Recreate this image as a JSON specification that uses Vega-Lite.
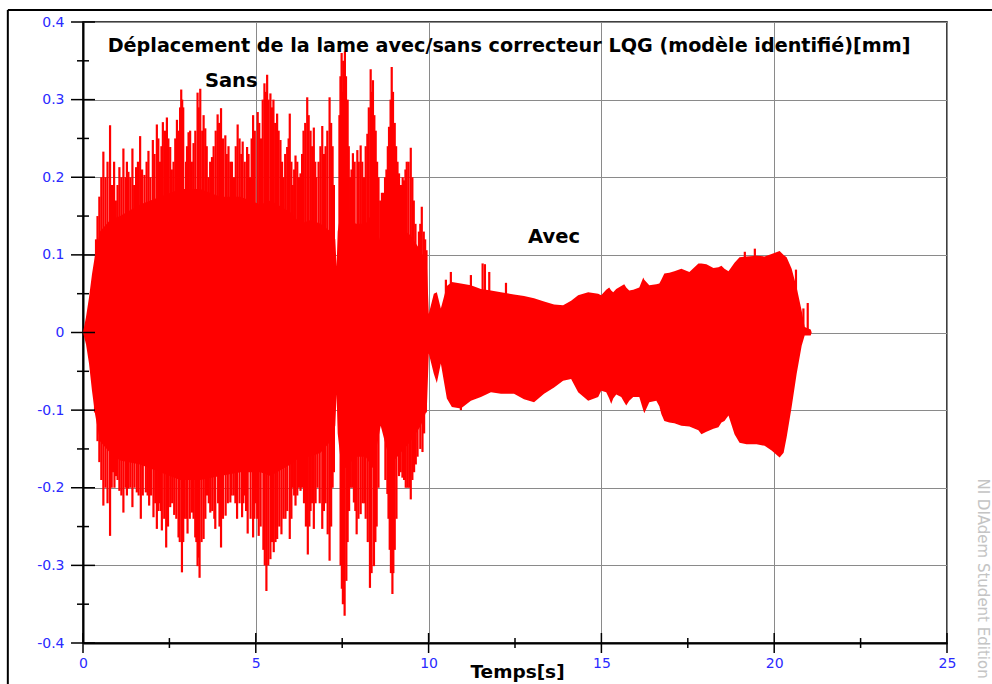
{
  "$schema": "https://vega.github.io/schema/vega-lite/v6.json",
  "width": 864,
  "height": 621,
  "autosize": {"type": "none"},
  "padding": {"left": 83, "top": 22, "right": 45, "bottom": 41},
  "background": "#ffffff",
  "config": {
    "view": {"stroke": "#000000", "strokeWidth": 1.5},
    "font": "DejaVu Sans"
  },
  "datasets": {
    "one": [{}],
    "env": [
      {"t": 0, "hi": 0, "lo": 0},
      {"t": 0.087, "hi": 0.02, "lo": -0.015},
      {"t": 0.174, "hi": 0.045, "lo": -0.04},
      {"t": 0.26, "hi": 0.075, "lo": -0.075},
      {"t": 0.348, "hi": 0.1, "lo": -0.105},
      {"t": 0.493, "hi": 0.13, "lo": -0.14},
      {"t": 0.783, "hi": 0.145, "lo": -0.155},
      {"t": 1.073, "hi": 0.15, "lo": -0.165},
      {"t": 1.653, "hi": 0.165, "lo": -0.17},
      {"t": 2.233, "hi": 0.175, "lo": -0.18},
      {"t": 2.813, "hi": 0.185, "lo": -0.19},
      {"t": 3.393, "hi": 0.185, "lo": -0.19},
      {"t": 3.973, "hi": 0.175, "lo": -0.185},
      {"t": 4.553, "hi": 0.175, "lo": -0.18},
      {"t": 5.133, "hi": 0.165, "lo": -0.18},
      {"t": 5.423, "hi": 0.17, "lo": -0.185},
      {"t": 6.003, "hi": 0.155, "lo": -0.17},
      {"t": 6.294, "hi": 0.14, "lo": -0.16},
      {"t": 6.584, "hi": 0.145, "lo": -0.16},
      {"t": 6.874, "hi": 0.14, "lo": -0.155},
      {"t": 7.164, "hi": 0.13, "lo": -0.14},
      {"t": 7.3, "hi": 0.12, "lo": -0.12},
      {"t": 7.338, "hi": 0.085, "lo": -0.08},
      {"t": 7.37, "hi": 0.13, "lo": -0.13},
      {"t": 7.454, "hi": 0.155, "lo": -0.165},
      {"t": 7.599, "hi": 0.165, "lo": -0.175},
      {"t": 7.889, "hi": 0.14, "lo": -0.16},
      {"t": 8.179, "hi": 0.14, "lo": -0.16},
      {"t": 8.382, "hi": 0.155, "lo": -0.175},
      {"t": 8.614, "hi": 0.115, "lo": -0.12},
      {"t": 8.904, "hi": 0.15, "lo": -0.17},
      {"t": 9.194, "hi": 0.135, "lo": -0.155},
      {"t": 9.484, "hi": 0.125, "lo": -0.14},
      {"t": 9.774, "hi": 0.105, "lo": -0.12},
      {"t": 9.948, "hi": 0.09, "lo": -0.1},
      {"t": 10.006, "hi": 0.024, "lo": -0.027},
      {"t": 10.151, "hi": 0.05, "lo": -0.053},
      {"t": 10.238, "hi": 0.052, "lo": -0.065},
      {"t": 10.354, "hi": 0.031, "lo": -0.04},
      {"t": 10.528, "hi": 0.06, "lo": -0.085},
      {"t": 10.673, "hi": 0.065, "lo": -0.096},
      {"t": 10.934, "hi": 0.063, "lo": -0.098},
      {"t": 11.224, "hi": 0.061, "lo": -0.088},
      {"t": 11.514, "hi": 0.056, "lo": -0.083},
      {"t": 11.804, "hi": 0.054, "lo": -0.077},
      {"t": 12.094, "hi": 0.052, "lo": -0.079},
      {"t": 12.471, "hi": 0.049, "lo": -0.079},
      {"t": 12.761, "hi": 0.047, "lo": -0.086},
      {"t": 13.051, "hi": 0.044, "lo": -0.09},
      {"t": 13.341, "hi": 0.04, "lo": -0.079},
      {"t": 13.631, "hi": 0.036, "lo": -0.071},
      {"t": 13.892, "hi": 0.035, "lo": -0.062},
      {"t": 14.124, "hi": 0.041, "lo": -0.06},
      {"t": 14.327, "hi": 0.048, "lo": -0.077},
      {"t": 14.617, "hi": 0.052, "lo": -0.088},
      {"t": 14.907, "hi": 0.05, "lo": -0.083},
      {"t": 14.994, "hi": 0.048, "lo": -0.075},
      {"t": 15.139, "hi": 0.055, "lo": -0.077},
      {"t": 15.226, "hi": 0.058, "lo": -0.085},
      {"t": 15.284, "hi": 0.054, "lo": -0.092},
      {"t": 15.342, "hi": 0.052, "lo": -0.085},
      {"t": 15.429, "hi": 0.056, "lo": -0.08},
      {"t": 15.574, "hi": 0.06, "lo": -0.083},
      {"t": 15.661, "hi": 0.062, "lo": -0.09},
      {"t": 15.719, "hi": 0.058, "lo": -0.094},
      {"t": 15.806, "hi": 0.054, "lo": -0.088},
      {"t": 15.922, "hi": 0.055, "lo": -0.083},
      {"t": 16.096, "hi": 0.058, "lo": -0.083},
      {"t": 16.212, "hi": 0.071, "lo": -0.1},
      {"t": 16.241, "hi": 0.068, "lo": -0.104},
      {"t": 16.386, "hi": 0.061, "lo": -0.09},
      {"t": 16.589, "hi": 0.062, "lo": -0.088},
      {"t": 16.676, "hi": 0.063, "lo": -0.095},
      {"t": 16.734, "hi": 0.068, "lo": -0.105},
      {"t": 16.821, "hi": 0.076, "lo": -0.114},
      {"t": 16.966, "hi": 0.077, "lo": -0.116},
      {"t": 17.111, "hi": 0.079, "lo": -0.117},
      {"t": 17.314, "hi": 0.082, "lo": -0.12},
      {"t": 17.546, "hi": 0.078, "lo": -0.121},
      {"t": 17.807, "hi": 0.089, "lo": -0.126},
      {"t": 17.894, "hi": 0.089, "lo": -0.131},
      {"t": 18.039, "hi": 0.088, "lo": -0.128},
      {"t": 18.242, "hi": 0.083, "lo": -0.124},
      {"t": 18.387, "hi": 0.084, "lo": -0.122},
      {"t": 18.474, "hi": 0.086, "lo": -0.116},
      {"t": 18.561, "hi": 0.082, "lo": -0.114},
      {"t": 18.677, "hi": 0.079, "lo": -0.107},
      {"t": 18.852, "hi": 0.09, "lo": -0.131},
      {"t": 18.997, "hi": 0.097, "lo": -0.142},
      {"t": 19.2, "hi": 0.098, "lo": -0.144},
      {"t": 19.49, "hi": 0.099, "lo": -0.144},
      {"t": 19.722, "hi": 0.098, "lo": -0.146},
      {"t": 19.925, "hi": 0.101, "lo": -0.152},
      {"t": 20.157, "hi": 0.105, "lo": -0.161},
      {"t": 20.273, "hi": 0.1, "lo": -0.155},
      {"t": 20.36, "hi": 0.097, "lo": -0.135},
      {"t": 20.505, "hi": 0.082, "lo": -0.096},
      {"t": 20.65, "hi": 0.058, "lo": -0.053},
      {"t": 20.795, "hi": 0.028, "lo": -0.017},
      {"t": 20.882, "hi": 0.007, "lo": -0.004},
      {"t": 21.056, "hi": 0.004, "lo": -0.004},
      {"t": 21.085, "hi": 0, "lo": 0}
    ],
    "spikes": [
      {"t": 0.377, "v": 0.12}, {"t": 0.473, "v": 0.175}, {"t": 0.589, "v": 0.233}, {"t": 0.783, "v": 0.267},
      {"t": 0.841, "v": 0.19}, {"t": 0.95, "v": 0.17}, {"t": 1.053, "v": 0.213}, {"t": 1.169, "v": 0.237},
      {"t": 1.314, "v": 0.207}, {"t": 1.43, "v": 0.237}, {"t": 1.537, "v": 0.213}, {"t": 1.653, "v": 0.253},
      {"t": 1.778, "v": 0.203}, {"t": 1.894, "v": 0.234}, {"t": 2.021, "v": 0.248}, {"t": 2.137, "v": 0.268},
      {"t": 2.23, "v": 0.22}, {"t": 2.311, "v": 0.271}, {"t": 2.427, "v": 0.277}, {"t": 2.523, "v": 0.239},
      {"t": 2.62, "v": 0.22}, {"t": 2.718, "v": 0.274}, {"t": 2.842, "v": 0.313}, {"t": 2.9, "v": 0.29},
      {"t": 2.98, "v": 0.22}, {"t": 3.054, "v": 0.258}, {"t": 3.199, "v": 0.244}, {"t": 3.315, "v": 0.309},
      {"t": 3.393, "v": 0.314}, {"t": 3.538, "v": 0.263}, {"t": 3.63, "v": 0.2}, {"t": 3.733, "v": 0.226},
      {"t": 3.895, "v": 0.281}, {"t": 3.994, "v": 0.289}, {"t": 4.118, "v": 0.254}, {"t": 4.263, "v": 0.22},
      {"t": 4.37, "v": 0.2}, {"t": 4.475, "v": 0.268}, {"t": 4.62, "v": 0.246}, {"t": 4.748, "v": 0.239},
      {"t": 4.83, "v": 0.2}, {"t": 4.922, "v": 0.28}, {"t": 5.055, "v": 0.284}, {"t": 5.15, "v": 0.25},
      {"t": 5.25, "v": 0.321}, {"t": 5.328, "v": 0.332}, {"t": 5.423, "v": 0.308}, {"t": 5.51, "v": 0.3},
      {"t": 5.617, "v": 0.282}, {"t": 5.713, "v": 0.248}, {"t": 5.8, "v": 0.2}, {"t": 5.908, "v": 0.239},
      {"t": 5.983, "v": 0.282}, {"t": 6.07, "v": 0.19}, {"t": 6.149, "v": 0.228}, {"t": 6.294, "v": 0.205},
      {"t": 6.381, "v": 0.26}, {"t": 6.488, "v": 0.303}, {"t": 6.584, "v": 0.26}, {"t": 6.679, "v": 0.264},
      {"t": 6.75, "v": 0.2}, {"t": 6.816, "v": 0.22}, {"t": 6.923, "v": 0.266}, {"t": 7.019, "v": 0.24},
      {"t": 7.135, "v": 0.303}, {"t": 7.222, "v": 0.24}, {"t": 7.42, "v": 0.28}, {"t": 7.483, "v": 0.36},
      {"t": 7.53, "v": 0.35}, {"t": 7.578, "v": 0.362}, {"t": 7.657, "v": 0.3}, {"t": 7.73, "v": 0.2},
      {"t": 7.81, "v": 0.231}, {"t": 7.938, "v": 0.235}, {"t": 8.034, "v": 0.241}, {"t": 8.13, "v": 0.2},
      {"t": 8.228, "v": 0.256}, {"t": 8.324, "v": 0.339}, {"t": 8.39, "v": 0.325}, {"t": 8.469, "v": 0.26},
      {"t": 8.55, "v": 0.2}, {"t": 8.701, "v": 0.18}, {"t": 8.78, "v": 0.21}, {"t": 8.855, "v": 0.265},
      {"t": 8.933, "v": 0.342}, {"t": 9.02, "v": 0.27}, {"t": 9.144, "v": 0.205}, {"t": 9.289, "v": 0.196},
      {"t": 9.368, "v": 0.22}, {"t": 9.484, "v": 0.238}, {"t": 9.571, "v": 0.17}, {"t": 9.678, "v": 0.106},
      {"t": 9.803, "v": 0.162}, {"t": 9.939, "v": 0.106},
      {"t": 0.42, "v": 0.15}, {"t": 0.53, "v": 0.2}, {"t": 0.65, "v": 0.2}, {"t": 0.71, "v": 0.22},
      {"t": 0.9, "v": 0.22}, {"t": 1.0, "v": 0.19}, {"t": 1.11, "v": 0.2}, {"t": 1.23, "v": 0.2},
      {"t": 1.27, "v": 0.22}, {"t": 1.37, "v": 0.2}, {"t": 1.48, "v": 0.19}, {"t": 1.59, "v": 0.22},
      {"t": 1.71, "v": 0.21}, {"t": 1.84, "v": 0.22}, {"t": 1.95, "v": 0.2}, {"t": 2.07, "v": 0.23},
      {"t": 2.18, "v": 0.25}, {"t": 2.27, "v": 0.24}, {"t": 2.37, "v": 0.26}, {"t": 2.47, "v": 0.25},
      {"t": 2.57, "v": 0.21}, {"t": 2.67, "v": 0.25}, {"t": 2.78, "v": 0.26}, {"t": 2.81, "v": 0.29},
      {"t": 2.87, "v": 0.3}, {"t": 3.01, "v": 0.24}, {"t": 3.1, "v": 0.26}, {"t": 3.15, "v": 0.22},
      {"t": 3.25, "v": 0.26}, {"t": 3.35, "v": 0.29}, {"t": 3.45, "v": 0.26}, {"t": 3.49, "v": 0.28},
      {"t": 3.58, "v": 0.24}, {"t": 3.68, "v": 0.22}, {"t": 3.78, "v": 0.24}, {"t": 3.84, "v": 0.26},
      {"t": 3.94, "v": 0.27}, {"t": 4.05, "v": 0.25}, {"t": 4.16, "v": 0.23}, {"t": 4.21, "v": 0.24},
      {"t": 4.31, "v": 0.22}, {"t": 4.42, "v": 0.24}, {"t": 4.53, "v": 0.25}, {"t": 4.58, "v": 0.23},
      {"t": 4.68, "v": 0.22}, {"t": 4.79, "v": 0.23}, {"t": 4.88, "v": 0.25}, {"t": 4.97, "v": 0.26},
      {"t": 5.1, "v": 0.27}, {"t": 5.2, "v": 0.3}, {"t": 5.29, "v": 0.31}, {"t": 5.37, "v": 0.3},
      {"t": 5.47, "v": 0.29}, {"t": 5.56, "v": 0.27}, {"t": 5.66, "v": 0.26}, {"t": 5.76, "v": 0.22},
      {"t": 5.85, "v": 0.23}, {"t": 5.95, "v": 0.25}, {"t": 6.03, "v": 0.22}, {"t": 6.11, "v": 0.21},
      {"t": 6.2, "v": 0.22}, {"t": 6.25, "v": 0.2}, {"t": 6.34, "v": 0.23}, {"t": 6.43, "v": 0.27},
      {"t": 6.53, "v": 0.28}, {"t": 6.63, "v": 0.24}, {"t": 6.72, "v": 0.22}, {"t": 6.87, "v": 0.24},
      {"t": 6.97, "v": 0.23}, {"t": 7.07, "v": 0.26}, {"t": 7.18, "v": 0.27}, {"t": 7.26, "v": 0.19},
      {"t": 7.45, "v": 0.33}, {"t": 7.51, "v": 0.31}, {"t": 7.61, "v": 0.33}, {"t": 7.69, "v": 0.24},
      {"t": 7.77, "v": 0.21}, {"t": 7.86, "v": 0.22}, {"t": 7.98, "v": 0.22}, {"t": 8.08, "v": 0.22},
      {"t": 8.18, "v": 0.24}, {"t": 8.27, "v": 0.29}, {"t": 8.36, "v": 0.31}, {"t": 8.43, "v": 0.28},
      {"t": 8.51, "v": 0.22}, {"t": 8.6, "v": 0.17}, {"t": 8.65, "v": 0.18}, {"t": 8.74, "v": 0.2},
      {"t": 8.82, "v": 0.24}, {"t": 8.9, "v": 0.3}, {"t": 8.97, "v": 0.31}, {"t": 9.06, "v": 0.24},
      {"t": 9.1, "v": 0.22}, {"t": 9.2, "v": 0.19}, {"t": 9.25, "v": 0.2}, {"t": 9.33, "v": 0.21},
      {"t": 9.42, "v": 0.22}, {"t": 9.53, "v": 0.2}, {"t": 9.62, "v": 0.14}, {"t": 9.72, "v": 0.13},
      {"t": 9.76, "v": 0.14}, {"t": 9.86, "v": 0.13}, {"t": 9.9, "v": 0.12},
      {"t": 0.348, "v": -0.103}, {"t": 0.473, "v": -0.167}, {"t": 0.589, "v": -0.223}, {"t": 0.783, "v": -0.262},
      {"t": 0.87, "v": -0.18}, {"t": 0.957, "v": -0.185}, {"t": 1.053, "v": -0.204}, {"t": 1.169, "v": -0.232},
      {"t": 1.314, "v": -0.201}, {"t": 1.43, "v": -0.225}, {"t": 1.557, "v": -0.206}, {"t": 1.673, "v": -0.24},
      {"t": 1.818, "v": -0.206}, {"t": 1.914, "v": -0.223}, {"t": 2.039, "v": -0.238}, {"t": 2.137, "v": -0.253},
      {"t": 2.21, "v": -0.22}, {"t": 2.282, "v": -0.255}, {"t": 2.407, "v": -0.277}, {"t": 2.523, "v": -0.225},
      {"t": 2.639, "v": -0.235}, {"t": 2.764, "v": -0.264}, {"t": 2.863, "v": -0.309}, {"t": 2.94, "v": -0.24},
      {"t": 3.025, "v": -0.259}, {"t": 3.153, "v": -0.232}, {"t": 3.248, "v": -0.264}, {"t": 3.315, "v": -0.301},
      {"t": 3.373, "v": -0.316}, {"t": 3.489, "v": -0.266}, {"t": 3.59, "v": -0.21}, {"t": 3.683, "v": -0.232},
      {"t": 3.828, "v": -0.253}, {"t": 3.91, "v": -0.22}, {"t": 3.994, "v": -0.277}, {"t": 4.127, "v": -0.236},
      {"t": 4.263, "v": -0.219}, {"t": 4.36, "v": -0.21}, {"t": 4.458, "v": -0.24}, {"t": 4.603, "v": -0.238},
      {"t": 4.68, "v": -0.21}, {"t": 4.765, "v": -0.259}, {"t": 4.922, "v": -0.264}, {"t": 5.0, "v": -0.22},
      {"t": 5.084, "v": -0.262}, {"t": 5.22, "v": -0.28}, {"t": 5.307, "v": -0.333}, {"t": 5.423, "v": -0.292},
      {"t": 5.519, "v": -0.283}, {"t": 5.618, "v": -0.266}, {"t": 5.742, "v": -0.26}, {"t": 5.858, "v": -0.24},
      {"t": 5.983, "v": -0.266}, {"t": 6.07, "v": -0.2}, {"t": 6.149, "v": -0.223}, {"t": 6.294, "v": -0.204},
      {"t": 6.395, "v": -0.22}, {"t": 6.505, "v": -0.286}, {"t": 6.584, "v": -0.23}, {"t": 6.679, "v": -0.253},
      {"t": 6.787, "v": -0.2}, {"t": 6.923, "v": -0.253}, {"t": 7.019, "v": -0.22}, {"t": 7.135, "v": -0.294},
      {"t": 7.222, "v": -0.2}, {"t": 7.454, "v": -0.3}, {"t": 7.52, "v": -0.35}, {"t": 7.57, "v": -0.365},
      {"t": 7.657, "v": -0.27}, {"t": 7.75, "v": -0.2}, {"t": 7.839, "v": -0.219}, {"t": 7.918, "v": -0.26},
      {"t": 8.034, "v": -0.234}, {"t": 8.179, "v": -0.24}, {"t": 8.303, "v": -0.329}, {"t": 8.419, "v": -0.301},
      {"t": 8.497, "v": -0.25}, {"t": 8.808, "v": -0.208}, {"t": 8.875, "v": -0.28}, {"t": 8.953, "v": -0.337},
      {"t": 9.02, "v": -0.28}, {"t": 9.144, "v": -0.185}, {"t": 9.243, "v": -0.187}, {"t": 9.339, "v": -0.2},
      {"t": 9.484, "v": -0.215}, {"t": 9.629, "v": -0.17}, {"t": 9.823, "v": -0.154}, {"t": 9.919, "v": -0.103},
      {"t": 0.42, "v": -0.14}, {"t": 0.53, "v": -0.19}, {"t": 0.65, "v": -0.2}, {"t": 0.71, "v": -0.22},
      {"t": 0.83, "v": -0.2}, {"t": 0.91, "v": -0.2}, {"t": 1.0, "v": -0.19}, {"t": 1.11, "v": -0.21},
      {"t": 1.23, "v": -0.2}, {"t": 1.27, "v": -0.21}, {"t": 1.37, "v": -0.2}, {"t": 1.49, "v": -0.2},
      {"t": 1.61, "v": -0.21}, {"t": 1.73, "v": -0.21}, {"t": 1.87, "v": -0.21}, {"t": 1.97, "v": -0.21},
      {"t": 2.09, "v": -0.22}, {"t": 2.18, "v": -0.23}, {"t": 2.25, "v": -0.23}, {"t": 2.35, "v": -0.24},
      {"t": 2.46, "v": -0.25}, {"t": 2.58, "v": -0.22}, {"t": 2.7, "v": -0.24}, {"t": 2.8, "v": -0.27},
      {"t": 2.9, "v": -0.27}, {"t": 2.99, "v": -0.24}, {"t": 3.09, "v": -0.24}, {"t": 3.2, "v": -0.24},
      {"t": 3.28, "v": -0.27}, {"t": 3.34, "v": -0.29}, {"t": 3.43, "v": -0.27}, {"t": 3.54, "v": -0.24},
      {"t": 3.64, "v": -0.22}, {"t": 3.74, "v": -0.23}, {"t": 3.8, "v": -0.24}, {"t": 3.95, "v": -0.25},
      {"t": 4.05, "v": -0.24}, {"t": 4.19, "v": -0.22}, {"t": 4.3, "v": -0.21}, {"t": 4.41, "v": -0.22},
      {"t": 4.53, "v": -0.22}, {"t": 4.64, "v": -0.22}, {"t": 4.72, "v": -0.23}, {"t": 4.85, "v": -0.24},
      {"t": 4.96, "v": -0.24}, {"t": 5.04, "v": -0.24}, {"t": 5.14, "v": -0.25}, {"t": 5.26, "v": -0.3},
      {"t": 5.36, "v": -0.3}, {"t": 5.47, "v": -0.27}, {"t": 5.57, "v": -0.27}, {"t": 5.68, "v": -0.25},
      {"t": 5.8, "v": -0.24}, {"t": 5.91, "v": -0.23}, {"t": 6.03, "v": -0.24}, {"t": 6.11, "v": -0.21},
      {"t": 6.2, "v": -0.21}, {"t": 6.25, "v": -0.2}, {"t": 6.34, "v": -0.2}, {"t": 6.45, "v": -0.25},
      {"t": 6.55, "v": -0.25}, {"t": 6.63, "v": -0.22}, {"t": 6.73, "v": -0.22}, {"t": 6.85, "v": -0.22},
      {"t": 6.97, "v": -0.23}, {"t": 7.08, "v": -0.26}, {"t": 7.18, "v": -0.25}, {"t": 7.26, "v": -0.18},
      {"t": 7.49, "v": -0.33}, {"t": 7.55, "v": -0.34}, {"t": 7.62, "v": -0.32}, {"t": 7.7, "v": -0.23},
      {"t": 7.8, "v": -0.2}, {"t": 7.88, "v": -0.23}, {"t": 7.97, "v": -0.24}, {"t": 8.09, "v": -0.22},
      {"t": 8.14, "v": -0.22}, {"t": 8.24, "v": -0.27}, {"t": 8.35, "v": -0.31}, {"t": 8.46, "v": -0.27},
      {"t": 8.55, "v": -0.2}, {"t": 8.75, "v": -0.19}, {"t": 8.84, "v": -0.24}, {"t": 8.91, "v": -0.31},
      {"t": 8.98, "v": -0.31}, {"t": 9.07, "v": -0.24}, {"t": 9.19, "v": -0.18}, {"t": 9.29, "v": -0.19},
      {"t": 9.39, "v": -0.2}, {"t": 9.44, "v": -0.2}, {"t": 9.53, "v": -0.19}, {"t": 9.58, "v": -0.18},
      {"t": 9.68, "v": -0.16}, {"t": 9.76, "v": -0.15}, {"t": 9.87, "v": -0.13},
      {"t": 10.5, "v": 0.068}, {"t": 10.644, "v": 0.078}, {"t": 11.224, "v": 0.074}, {"t": 11.563, "v": 0.089},
      {"t": 11.63, "v": 0.088}, {"t": 11.755, "v": 0.078}, {"t": 12.239, "v": 0.064}, {"t": 19.15, "v": 0.104},
      {"t": 19.44, "v": 0.108}, {"t": 20.63, "v": 0.081}, {"t": 20.845, "v": 0.031}, {"t": 20.97, "v": 0.038},
      {"t": 10.934, "v": -0.1}
    ],
    "yMajor": [
      {"v": -0.4}, {"v": -0.3}, {"v": -0.2}, {"v": -0.1}, {"v": 0}, {"v": 0.1}, {"v": 0.2}, {"v": 0.3}, {"v": 0.4}
    ],
    "yMinor": [
      {"v": -0.35}, {"v": -0.25}, {"v": -0.15}, {"v": -0.05}, {"v": 0.05}, {"v": 0.15}, {"v": 0.25}, {"v": 0.35}
    ],
    "xMajor": [
      {"t": 0}, {"t": 5}, {"t": 10}, {"t": 15}, {"t": 20}, {"t": 25}
    ],
    "xMinor": [
      {"t": 2.5}, {"t": 7.5}, {"t": 12.5}, {"t": 17.5}, {"t": 22.5}
    ]
  },
  "layer": [
    {
      "data": {"name": "env"},
      "mark": {"type": "area", "color": "#ff0000", "interpolate": "linear", "clip": false},
      "encoding": {
        "x": {
          "field": "t", "type": "quantitative",
          "scale": {"domain": [0, 25], "nice": false, "zero": false},
          "axis": {
            "values": [0, 5, 10, 15, 20, 25],
            "ticks": false,
            "grid": true,
            "gridColor": "#8a8a8a",
            "gridWidth": 1,
            "domainColor": "#000000",
            "domainWidth": 2,
            "labelColor": "#2a2aff",
            "labelFont": "DejaVu Sans",
            "labelFontSize": 14,
            "labelPadding": 13,
            "labelFlush": false,
            "title": "Temps[s]",
            "titleFont": "DejaVu Sans",
            "titleFontSize": 18.5,
            "titleFontWeight": "bold",
            "titleColor": "#000000",
            "titleBaseline": "alphabetic",
            "titleY": 34,
            "titleX": 434
          }
        },
        "y": {
          "field": "hi", "type": "quantitative",
          "scale": {"domain": [-0.4, 0.4], "nice": false, "zero": false},
          "axis": {
            "values": [-0.4, -0.3, -0.2, -0.1, 0, 0.1, 0.2, 0.3, 0.4],
            "labelExpr": "toString(round(datum.value*10)/10)",
            "ticks": false,
            "grid": true,
            "gridColor": "#8a8a8a",
            "gridWidth": 1,
            "domainColor": "#000000",
            "domainWidth": 2,
            "labelColor": "#2a2aff",
            "labelFont": "DejaVu Sans",
            "labelFontSize": 14,
            "labelPadding": 19,
            "labelFlush": false,
            "title": null
          }
        },
        "y2": {"field": "lo"}
      }
    },
    {
      "data": {"name": "spikes"},
      "mark": {"type": "rule", "color": "#ff0000", "strokeWidth": 2.2, "clip": false},
      "encoding": {
        "x": {"field": "t", "type": "quantitative"},
        "y": {"field": "v", "type": "quantitative"},
        "y2": {"datum": 0}
      }
    },
    {
      "data": {"name": "yMajor"},
      "mark": {"type": "rule", "color": "#000000", "strokeWidth": 1.5, "clip": false},
      "encoding": {
        "y": {"field": "v", "type": "quantitative"},
        "x": {"datum": -0.347},
        "x2": {"datum": 0.347}
      }
    },
    {
      "data": {"name": "yMinor"},
      "mark": {"type": "rule", "color": "#000000", "strokeWidth": 1.5, "clip": false},
      "encoding": {
        "y": {"field": "v", "type": "quantitative"},
        "x": {"datum": -0.174},
        "x2": {"datum": 0.174}
      }
    },
    {
      "data": {"name": "xMajor"},
      "mark": {"type": "rule", "color": "#000000", "strokeWidth": 1.5, "clip": false},
      "encoding": {
        "x": {"field": "t", "type": "quantitative"},
        "y": {"datum": -0.4129},
        "y2": {"datum": -0.3871}
      }
    },
    {
      "data": {"name": "xMinor"},
      "mark": {"type": "rule", "color": "#000000", "strokeWidth": 1.5, "clip": false},
      "encoding": {
        "x": {"field": "t", "type": "quantitative"},
        "y": {"datum": -0.4064},
        "y2": {"datum": -0.3936}
      }
    },
    {
      "data": {"name": "one"},
      "mark": {"type": "rule", "color": "#000000", "strokeWidth": 2, "clip": false},
      "encoding": {
        "x": {"datum": -2.175},
        "x2": {"datum": 30},
        "y": {"datum": 0.4155}
      }
    },
    {
      "data": {"name": "one"},
      "mark": {"type": "rule", "color": "#000000", "strokeWidth": 2, "clip": false},
      "encoding": {
        "x": {"datum": -2.175},
        "y": {"datum": 0.4155},
        "y2": {"datum": -0.47}
      }
    },
    {
      "data": {"name": "one"},
      "mark": {"type": "text", "text": "Déplacement de la lame avec/sans correcteur LQG (modèle identifié)[mm]", "font": "DejaVu Sans", "fontSize": 19.2, "fontWeight": "bold", "color": "#000000", "align": "center", "baseline": "alphabetic", "clip": false},
      "encoding": {
        "x": {"datum": 12.33},
        "y": {"datum": 0.361}
      }
    },
    {
      "data": {"name": "one"},
      "mark": {"type": "text", "text": "Sans", "font": "DejaVu Sans", "fontSize": 19.5, "fontWeight": "bold", "color": "#000000", "align": "center", "baseline": "alphabetic", "clip": false},
      "encoding": {
        "x": {"datum": 4.29},
        "y": {"datum": 0.316}
      }
    },
    {
      "data": {"name": "one"},
      "mark": {"type": "text", "text": "Avec", "font": "DejaVu Sans", "fontSize": 19.5, "fontWeight": "bold", "color": "#000000", "align": "center", "baseline": "alphabetic", "clip": false},
      "encoding": {
        "x": {"datum": 13.63},
        "y": {"datum": 0.115}
      }
    },
    {
      "data": {"name": "one"},
      "mark": {"type": "text", "text": "NI DIAdem Student Edition", "font": "DejaVu Sans", "fontSize": 15, "color": "#c4c4c4", "angle": 90, "align": "left", "baseline": "middle", "clip": false},
      "encoding": {
        "x": {"datum": 26.03},
        "y": {"datum": -0.188}
      }
    }
  ]
}
